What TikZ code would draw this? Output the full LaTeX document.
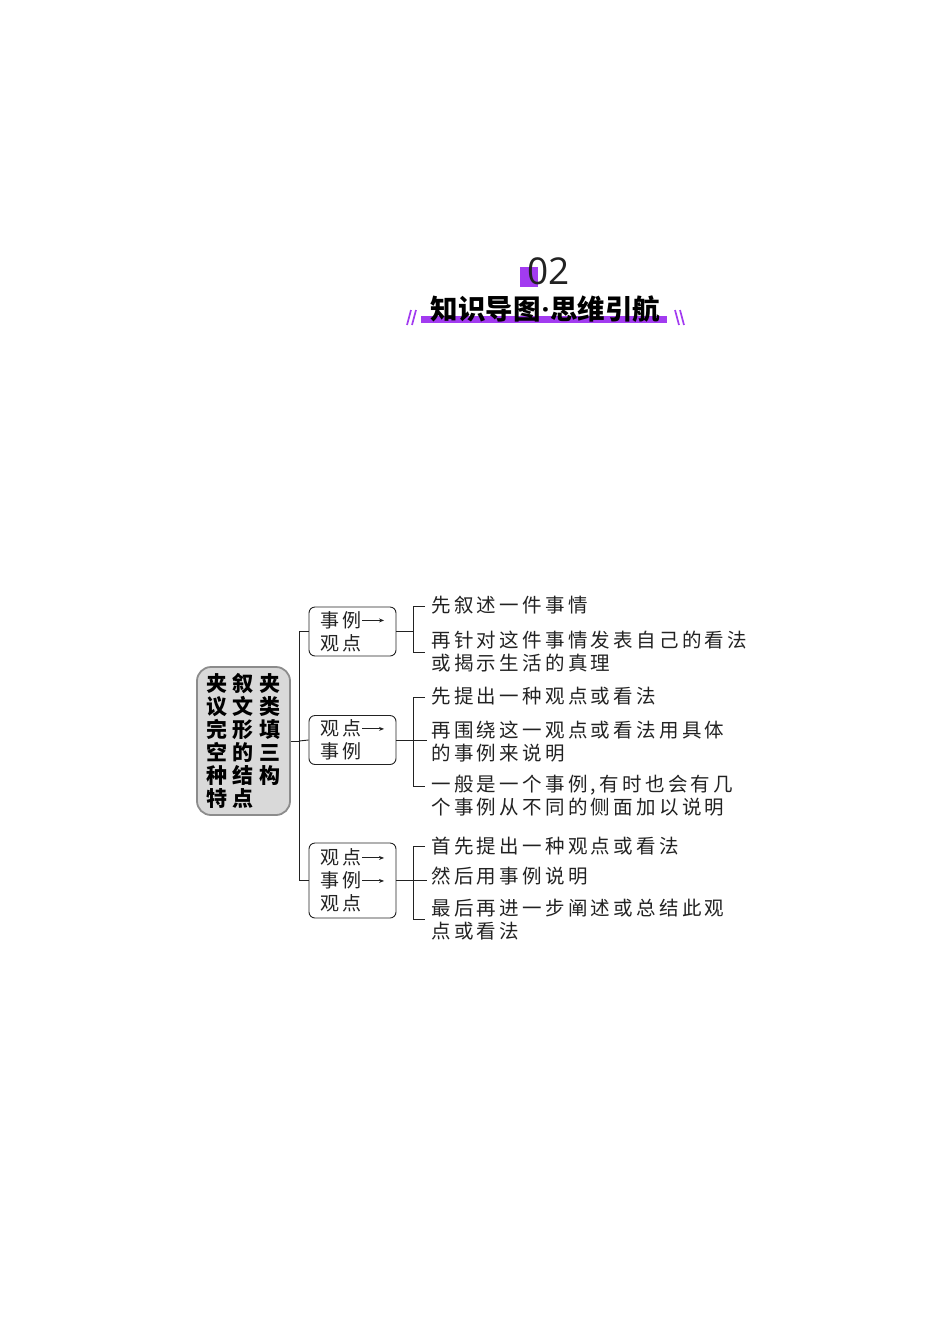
\documentclass[tikz,border=0pt]{standalone}
\usepackage{fontspec}
\setmainfont{Noto Sans CJK SC}
\newfontfamily\bodyfont[LetterSpace=17]{Noto Sans CJK SC}
\newfontfamily\boxfont[LetterSpace=16]{Noto Sans CJK SC}
\newfontfamily\keyfont[LetterSpace=28]{Noto Sans CJK SC}
\newfontfamily\titlefont{Noto Sans CJK SC}
\newfontfamily\numfont{Open Sans}
\usetikzlibrary{arrows.meta}
\definecolor{vio}{HTML}{A23BF0}
\definecolor{ink}{HTML}{222222}
\definecolor{keyfill}{HTML}{D9D9D9}
\definecolor{keyedge}{HTML}{8C8C8C}
\newcommand\rarr{\tikz[baseline=0pt]\draw[ink,line width=0.9pt,-{Stealth[length=5pt,width=4pt]}] (0pt,6.8pt)--(22pt,6.8pt);}
\begin{document}
\begin{tikzpicture}[x=1pt,y=-1pt,
  line/.style={ink,line width=0.9pt},
  keybox/.style={draw=keyedge,fill=keyfill,line width=1.8pt,rounded corners=14pt,
    minimum width=93pt,minimum height=148pt,inner sep=0pt,align=left,text=black,
    font=\keyfont\bfseries\fontsize{21}{23}\selectfont},
  stepbox/.style={draw=ink,fill=white,line width=0.9pt,rounded corners=6pt,
    minimum width=87pt,minimum height=49pt,inner sep=0pt,align=left,text=ink,
    font=\boxfont\fontsize{19}{23}\selectfont},
  item/.style={anchor=west,align=left,inner sep=0pt,text=ink,
    font=\bodyfont\fontsize{19.5}{23}\selectfont},
  slash/.style={vio,line width=1.7pt}]
\useasboundingbox (0,0) rectangle (950,1344);
% header
\fill[vio] (520,267) rectangle (538,287);
\node[font=\numfont\fontsize{37}{37}\selectfont,text=ink,inner sep=0pt] (num) at (548.5,271) {02};
\fill[vio] (421,316) rectangle (667,323);
\node[font=\titlefont\bfseries\fontsize{27.5}{27.5}\selectfont,text=black,inner sep=0pt] (title) at (545.5,309) {知识导图\kern1pt{\numfont\bfseries ·}\kern1pt思维引航};
\draw[slash] (407,325) -- (411,310);
\draw[slash] (412,325) -- (416,310);
\draw[slash] (675,310) -- (679,325);
\draw[slash] (680,310) -- (684,325);
% main
\node[keybox] (main) at (243.5,741) {夹叙夹\\议文类\\完形填\\空的三\\种结构\\特点};
\node[stepbox] (b1) at (352.5,631.5) {事例\rarr\\观点};
\node[stepbox] (b2) at (352.5,740) {观点\rarr\\事例};
\node[stepbox,minimum height=75pt] (b3) at (352.5,880.5) {观点\rarr\\事例\rarr\\观点};
\coordinate (sp) at (299,741);
\draw[line] (main.east) -- (sp);
\draw[line] (b1.west -| sp) -- (b3.west -| sp);
\draw[line] (b1.west -| sp) -- (b1.west);
\draw[line] (sp) -- (b2.west);
\draw[line] (b3.west -| sp) -- (b3.west);
% texts
\node[item] (t11) at (431,605) {先叙述一件事情};
\node[item] (t12) at (431,651.5) {再针对这件事情发表自己的看法\\或揭示生活的真理};
\node[item] (t21) at (431,696) {先提出一种观点或看法};
\node[item] (t22) at (431,741.5) {再围绕这一观点或看法用具体\\的事例来说明};
\node[item] (t23) at (431,795.5) {一般是一个事例,有时也会有几\\个事例从不同的侧面加以说明};
\node[item] (t31) at (431,846) {首先提出一种观点或看法};
\node[item] (t32) at (431,876) {然后用事例说明};
\node[item] (t33) at (431,919.5) {最后再进一步阐述或总结此观\\点或看法};
% brackets
\coordinate (k1t) at (413,606); \coordinate (k1b) at (413,652);
\draw[line] (b1.east) -- (b1.east -| k1t);
\draw[line] ([xshift=-6pt]t11.west |- k1t) -- (k1t) -- (k1b) -- ++(12,0);
\coordinate (k2t) at (413,697); \coordinate (k2b) at (413,786);
\draw[line] (b2.east) -- ++(31,0);
\draw[line] ([xshift=-6pt]t21.west |- k2t) -- (k2t) -- (k2b) -- ++(12,0);
\coordinate (k3t) at (413,846); \coordinate (k3b) at (413,919);
\draw[line] (b3.east) -- ++(31,0);
\draw[line] ([xshift=-6pt]t31.west |- k3t) -- (k3t) -- (k3b) -- ++(12,0);
\end{tikzpicture}
\end{document}
